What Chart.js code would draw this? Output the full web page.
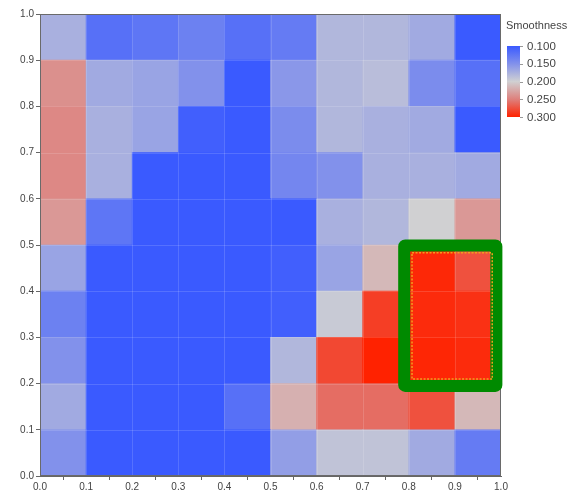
<!DOCTYPE html>
<html>
<head>
<meta charset="utf-8">
<script src="https://cdn.jsdelivr.net/npm/chart.js@4/dist/chart.umd.min.js"></script>
<style>
  html, body { margin: 0; padding: 0; background: #ffffff; }
  #wrap { width: 577px; height: 492px; }
</style>
</head>
<body>
<div id="wrap"><canvas id="c" width="577" height="492"></canvas></div>
<script>
// Bin edges along both axes
const xEdges = [0.0, 0.1, 0.2, 0.3, 0.4, 0.5, 0.6, 0.7, 0.8, 0.9, 1.0];
const yEdges = [0.0, 0.1, 0.2, 0.3, 0.4, 0.5, 0.6, 0.7, 0.8, 0.9, 1.0];

// Smoothness per cell, one array per y bin (bottom bin first), columns left to right
const row00 = [0.150, 0.100, 0.100, 0.100, 0.100, 0.160, 0.190, 0.190, 0.170, 0.130];
const row01 = [0.170, 0.100, 0.100, 0.100, 0.120, 0.220, 0.260, 0.260, 0.275, 0.215];
const row02 = [0.150, 0.100, 0.100, 0.100, 0.100, 0.180, 0.280, 0.300, 0.298, 0.295];
const row03 = [0.135, 0.100, 0.100, 0.100, 0.100, 0.105, 0.195, 0.285, 0.295, 0.292];
const row04 = [0.165, 0.100, 0.100, 0.100, 0.100, 0.105, 0.165, 0.215, 0.297, 0.275];
const row05 = [0.235, 0.125, 0.100, 0.100, 0.100, 0.100, 0.175, 0.180, 0.200, 0.235];
const row06 = [0.245, 0.175, 0.100, 0.100, 0.100, 0.140, 0.150, 0.175, 0.175, 0.170];
const row07 = [0.245, 0.175, 0.165, 0.105, 0.100, 0.145, 0.180, 0.175, 0.170, 0.100];
const row08 = [0.240, 0.170, 0.165, 0.150, 0.100, 0.155, 0.180, 0.185, 0.145, 0.120];
const row09 = [0.175, 0.120, 0.125, 0.135, 0.120, 0.130, 0.180, 0.180, 0.170, 0.100];
const smoothness = [row00, row01, row02, row03, row04, row05, row06, row07, row08, row09];

// Colour bar
const legendTitle = 'Smoothness';
const legendTicks = [0.100, 0.150, 0.200, 0.250, 0.300];
const axisTicks = [0.0, 0.1, 0.2, 0.3, 0.4, 0.5, 0.6, 0.7, 0.8, 0.9, 1.0];

// Highlighted region (data units)
const boxX = [0.79, 0.99];
const boxY = [0.195, 0.499];
const innerX = [0.807, 0.981];
const innerY = [0.21, 0.483];

// Diverging colour map: blue -> grey -> red
const stops = [
  [0.100, [58, 90, 255]],
  [0.150, [130, 145, 235]],
  [0.200, [208, 208, 210]],
  [0.250, [222, 128, 124]],
  [0.300, [255, 34, 0]]
];
function colorFor(v) {
  if (v <= stops[0][0]) return 'rgb(' + stops[0][1].join(',') + ')';
  for (let i = 1; i < stops.length; i++) {
    if (v <= stops[i][0]) {
      const t = (v - stops[i - 1][0]) / (stops[i][0] - stops[i - 1][0]);
      const a = stops[i - 1][1], b = stops[i][1];
      const c = a.map((ch, k) => Math.round(ch + (b[k] - ch) * t));
      return 'rgb(' + c.join(',') + ')';
    }
  }
  return 'rgb(' + stops[stops.length - 1][1].join(',') + ')';
}

const FONT = '"Liberation Sans", Arial, sans-serif';

const datasets = smoothness.map((vals, r) => ({
  label: 'y ' + yEdges[r].toFixed(1),
  data: vals.map((v, c) => ({ x: (xEdges[c] + xEdges[c + 1]) / 2, y: [yEdges[r], yEdges[r + 1]] })),
  backgroundColor: vals.map(colorFor),
  borderWidth: 0,
  barPercentage: 1.0,
  categoryPercentage: 1.0,
  grouped: false
}));

// Cell separators, frame, highlight box and colour bar
const overlay = {
  id: 'overlay',
  afterDatasetsDraw(chart) {
    const ctx = chart.ctx;
    const xs = chart.scales.x, ys = chart.scales.y;
    const a = chart.chartArea;
    ctx.save();

    // faint separators between cells
    ctx.strokeStyle = 'rgba(255,255,255,0.14)';
    ctx.lineWidth = 1;
    xEdges.slice(1, -1).forEach(v => {
      const p = Math.round(xs.getPixelForValue(v)) + 0.5;
      ctx.beginPath(); ctx.moveTo(p, a.top); ctx.lineTo(p, a.bottom); ctx.stroke();
    });
    yEdges.slice(1, -1).forEach(v => {
      const p = Math.round(ys.getPixelForValue(v)) + 0.5;
      ctx.beginPath(); ctx.moveTo(a.left, p); ctx.lineTo(a.right, p); ctx.stroke();
    });

    ctx.strokeStyle = '#6a6a6a';
    ctx.strokeRect(a.left + 0.5, a.top + 0.5, a.right - a.left - 1, a.bottom - a.top - 1);

    // highlight box
    const gx0 = xs.getPixelForValue(boxX[0]), gx1 = xs.getPixelForValue(boxX[1]);
    const gy0 = ys.getPixelForValue(boxY[1]), gy1 = ys.getPixelForValue(boxY[0]);
    ctx.strokeStyle = '#008a00';
    ctx.lineWidth = 12;
    ctx.lineJoin = 'round';
    ctx.beginPath();
    ctx.roundRect(gx0, gy0, gx1 - gx0, gy1 - gy0, 1);
    ctx.stroke();

    const ix0 = xs.getPixelForValue(innerX[0]), ix1 = xs.getPixelForValue(innerX[1]);
    const iy0 = ys.getPixelForValue(innerY[1]), iy1 = ys.getPixelForValue(innerY[0]);
    ctx.strokeStyle = '#f0a020';
    ctx.lineWidth = 1.5;
    ctx.setLineDash([2, 1.5]);
    ctx.strokeRect(ix0, iy0, ix1 - ix0, iy1 - iy0);
    ctx.setLineDash([]);

    // colour bar
    const bx = 507, bw = 13, bTop = 46, bBot = 117;
    const grad = ctx.createLinearGradient(0, bTop, 0, bBot);
    const lo = legendTicks[0], hi = legendTicks[legendTicks.length - 1];
    stops.forEach(s => grad.addColorStop((s[0] - lo) / (hi - lo), 'rgb(' + s[1].join(',') + ')'));
    ctx.fillStyle = grad;
    ctx.fillRect(bx, bTop, bw, bBot - bTop);

    ctx.fillStyle = '#444';
    ctx.font = '11px ' + FONT;
    ctx.textAlign = 'left';
    ctx.textBaseline = 'middle';
    ctx.fillText(legendTitle, 506, 26);
    ctx.strokeStyle = '#999';
    ctx.lineWidth = 1;
    ctx.font = '11.5px ' + FONT;
    legendTicks.forEach(t => {
      const y = bTop + (t - lo) / (hi - lo) * (bBot - bTop);
      ctx.beginPath();
      ctx.moveTo(bx + bw, Math.round(y) + 0.5);
      ctx.lineTo(bx + bw + 3, Math.round(y) + 0.5);
      ctx.stroke();
      ctx.fillText(t.toFixed(3), 527, y + 0.5);
    });
    ctx.restore();
  }
};

new Chart(document.getElementById('c'), {
  type: 'bar',
  data: { datasets },
  options: {
    responsive: false,
    animation: false,
    events: [],
    layout: { padding: { left: 0, top: 14, right: 76, bottom: 0 } },
    plugins: { legend: { display: false }, tooltip: { enabled: false } },
    scales: {
      x: {
        type: 'linear',
        min: 0, max: 1,
        offset: false,
        afterBuildTicks: s => { s.ticks = axisTicks.map(v => ({ value: v })); },
        afterFit: s => { s.height = 16; },
        ticks: { callback: v => Number(v).toFixed(1), font: { family: FONT, size: 10 }, color: '#444', padding: 1, maxRotation: 0, autoSkip: false },
        grid: { drawOnChartArea: false, drawTicks: true, tickLength: 4, color: '#666' },
        border: { color: '#666', width: 1 }
      },
      y: {
        type: 'linear',
        min: 0, max: 1,
        afterBuildTicks: s => { s.ticks = axisTicks.map(v => ({ value: v })); },
        afterFit: s => { s.width = 40; },
        ticks: { callback: v => Number(v).toFixed(1), font: { family: FONT, size: 10 }, color: '#444', padding: 2, autoSkip: false },
        grid: { drawOnChartArea: false, drawTicks: true, tickLength: 4, color: '#666' },
        border: { color: '#666', width: 1 }
      }
    }
  },
  plugins: [overlay]
});
</script>
</body>
</html>
